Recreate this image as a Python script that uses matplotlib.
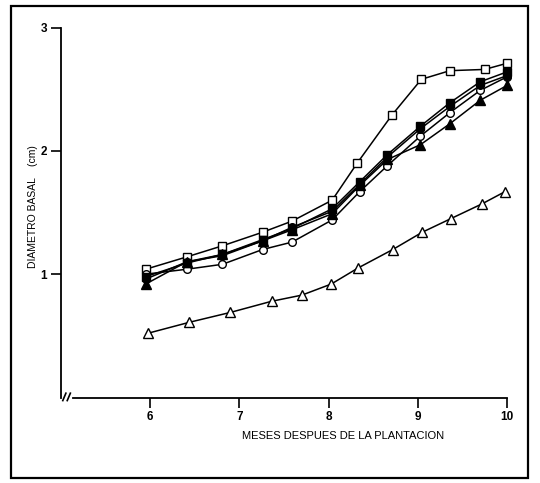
import matplotlib.pyplot as plt
from matplotlib.patches import Rectangle

plt.rcParams['font.family'] = ['Liberation Sans', 'DejaVu Sans']

# meses despues de la plantacion (fechas de medicion)
x_sup = [5.95, 6.41, 6.81, 7.26, 7.59, 8.04, 8.32, 8.71, 9.04, 9.36, 9.75, 10.0]
x_med = [5.95, 6.41, 6.81, 7.26, 7.59, 8.04, 8.35, 8.66, 9.03, 9.36, 9.70, 10.0]
x_inf = [5.97, 6.44, 6.90, 7.36, 7.70, 8.03, 8.33, 8.72, 9.05, 9.37, 9.72, 9.98]

# diametro basal (cm)
y_cuad_abierto = [1.04, 1.14, 1.23, 1.34, 1.43, 1.60, 1.90, 2.29, 2.58, 2.65, 2.66, 2.71]
y_cuad_lleno = [0.98, 1.09, 1.16, 1.28, 1.37, 1.53, 1.75, 1.97, 2.20, 2.39, 2.56, 2.64]
y_circ_lleno = [0.96, 1.10, 1.15, 1.27, 1.38, 1.51, 1.73, 1.95, 2.18, 2.36, 2.53, 2.61]
y_circ_abierto = [1.00, 1.04, 1.08, 1.20, 1.26, 1.44, 1.67, 1.88, 2.12, 2.31, 2.49, 2.60]
y_tri_lleno = [0.92, 1.10, 1.16, 1.27, 1.36, 1.49, 1.72, 1.93, 2.05, 2.22, 2.41, 2.53]
y_tri_abierto = [0.52, 0.61, 0.69, 0.78, 0.83, 0.92, 1.05, 1.20, 1.34, 1.45, 1.57, 1.67]

x_ticks = [6, 7, 8, 9, 10]
y_ticks = [1, 2, 3]

fig = plt.figure(figsize=(5.4, 4.83), dpi=100)
ax = fig.add_axes([61 / 540, 1 - 397.5 / 483, 446 / 540, 370 / 483])

estilo = dict(color='black', lw=1.1, clip_on=False, markeredgecolor='black',
              markeredgewidth=1.0)
ax.plot(x_sup, y_cuad_abierto, marker='s', ms=5.5, mfc='white', **estilo)
ax.plot(x_med, y_circ_abierto, marker='o', ms=5.5, mfc='white', **estilo)
ax.plot(x_med, y_tri_lleno, marker='^', ms=6.5, mfc='black', **estilo)
ax.plot(x_med, y_circ_lleno, marker='o', ms=5.5, mfc='black', **estilo)
ax.plot(x_med, y_cuad_lleno, marker='s', ms=5.5, mfc='black', **estilo)
ax.plot(x_inf, y_tri_abierto, marker='^', ms=7, mfc='white', **estilo)

ax.set_xlim(5, 10)
ax.set_ylim(0, 3)
ax.set_xticks(x_ticks)
ax.set_yticks(y_ticks)
ax.tick_params(direction='out', length=7, width=1.2, labelsize=8.5, pad=3)
for lab in ax.get_xticklabels() + ax.get_yticklabels():
    lab.set_fontweight('bold')

ax.spines['top'].set_visible(False)
ax.spines['right'].set_visible(False)
ax.spines['left'].set_linewidth(1.3)
ax.spines['bottom'].set_linewidth(1.3)
ax.spines['bottom'].set_bounds(5.13, 10)

# marca de corte del eje x
for dx in (0.02, 0.07):
    ax.plot([5 + dx, 5 + dx + 0.035], [-0.025, 0.035], color='black', lw=1.2,
            clip_on=False)

ax.text(0.632, -0.104, 'MESES DESPUES DE LA PLANTACION', transform=ax.transAxes,
        ha='center', va='center', fontsize=8)
ax.text(-0.063, 0.515, 'DIAMETRO BASAL    (cm)', transform=ax.transAxes,
        rotation=90, ha='center', va='center', fontsize=7.5)

fig.patches.append(Rectangle((11 / 540, 1 - 478 / 483), 517 / 540, 472 / 483,
                             transform=fig.transFigure, fill=False,
                             lw=1.6, edgecolor='black'))

fig.savefig('out.png', dpi=100)
